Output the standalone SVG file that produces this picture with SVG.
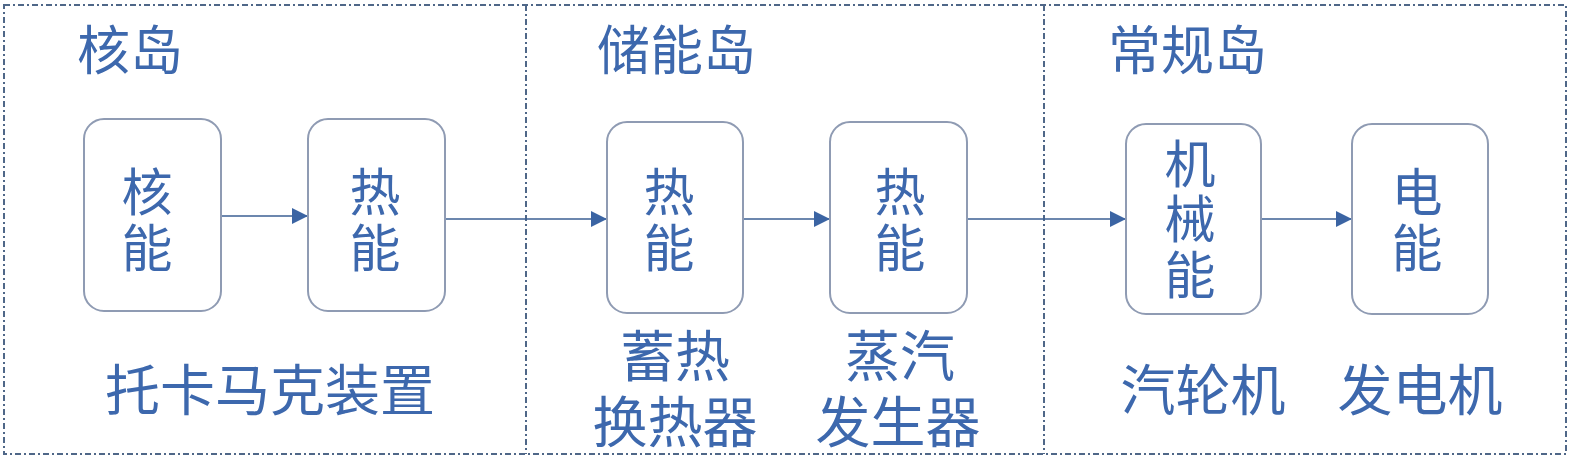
<svg xmlns="http://www.w3.org/2000/svg" width="1575" height="460" viewBox="0 0 1575 460">
<style>
.frame{fill:none;stroke:#4f6788;stroke-width:2;stroke-dasharray:6 3 2 3}
.box{fill:#ffffff;stroke:#8f9bb3;stroke-width:2}
.t{font-family:"Noto Sans CJK SC","Noto Sans CJK JP",sans-serif;fill:#3d68ad;dominant-baseline:central}
.title{font-size:53px}
.bt{font-size:51px;text-anchor:middle}
.lb{font-size:55px;text-anchor:middle}
.conn{stroke:#3b5f93;stroke-width:1.5;fill:none}
</style>
<defs>
<marker id="ah" markerUnits="userSpaceOnUse" markerWidth="16" markerHeight="16" refX="16" refY="8" orient="auto">
<path d="M0,0 L16,8 L0,16 Z" fill="#3b64a3"/>
</marker>
</defs>
<rect width="1575" height="460" fill="#ffffff"/>
<g id="frames">
<rect class="frame" x="4" y="5" width="1562" height="449"/>
<line class="frame" x1="526" y1="5" x2="526" y2="454"/>
<line class="frame" x1="1044" y1="5" x2="1044" y2="454"/>
</g>
<g id="titles">
<text class="t title" x="77" y="47">核岛</text>
<text class="t title" x="597" y="47">储能岛</text>
<text class="t title" x="1108" y="47">常规岛</text>
</g>
<g id="connectors">
<line class="conn" x1="221" y1="216" x2="308" y2="216" stroke-width="2.5" marker-end="url(#ah)"/>
<line class="conn" x1="445" y1="219" x2="607" y2="219" marker-end="url(#ah)"/>
<line class="conn" x1="743" y1="219" x2="830" y2="219" marker-end="url(#ah)"/>
<line class="conn" x1="967" y1="219" x2="1126" y2="219" marker-end="url(#ah)"/>
<line class="conn" x1="1261" y1="219" x2="1352" y2="219" marker-end="url(#ah)"/>
</g>
<g id="node-nuclear">
<rect class="box" x="84" y="119" width="137" height="192" rx="20"/>
<text class="t bt" x="147" y="189">核</text>
<text class="t bt" x="147" y="245">能</text>
</g>
<g id="node-heat1">
<rect class="box" x="308" y="119" width="137" height="192" rx="20"/>
<text class="t bt" x="375" y="189">热</text>
<text class="t bt" x="375" y="245">能</text>
</g>
<g id="node-heat2">
<rect class="box" x="607" y="122" width="136" height="191" rx="20"/>
<text class="t bt" x="669" y="189">热</text>
<text class="t bt" x="669" y="245">能</text>
</g>
<g id="node-heat3">
<rect class="box" x="830" y="122" width="137" height="191" rx="20"/>
<text class="t bt" x="900" y="189">热</text>
<text class="t bt" x="900" y="245">能</text>
</g>
<g id="node-mech">
<rect class="box" x="1126" y="124" width="135" height="190" rx="20"/>
<text class="t bt" x="1190" y="161">机</text>
<text class="t bt" x="1190" y="216">械</text>
<text class="t bt" x="1190" y="272">能</text>
</g>
<g id="node-elec">
<rect class="box" x="1352" y="124" width="136" height="190" rx="20"/>
<text class="t bt" x="1417" y="189">电</text>
<text class="t bt" x="1417" y="245">能</text>
</g>
<g id="labels">
<text class="t lb" x="270" y="386">托卡马克装置</text>
<text class="t lb" x="675" y="352">蓄热</text>
<text class="t lb" x="675" y="418">换热器</text>
<text class="t lb" x="900" y="352">蒸汽</text>
<text class="t lb" x="898" y="418">发生器</text>
<text class="t lb" x="1203" y="386">汽轮机</text>
<text class="t lb" x="1420" y="386">发电机</text>
</g>
</svg>
